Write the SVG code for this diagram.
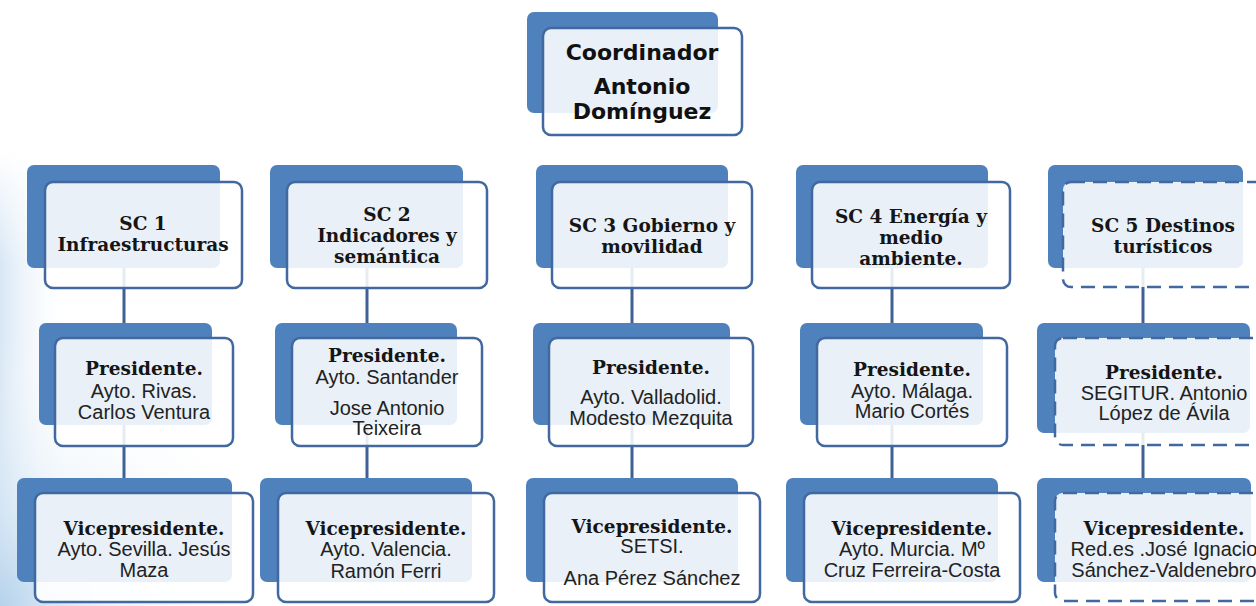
<svg xmlns="http://www.w3.org/2000/svg" width="1256" height="606" viewBox="0 0 1256 606">
<defs>
<style>
.back{fill:#4f81bd;}
.front{fill:#ffffff;fill-opacity:0.88;stroke:#41689f;stroke-width:2.5;}
.dash{stroke-dasharray:14 8;}
.conn{stroke:#3f6196;stroke-width:3;fill:none;}
.coord{font-family:"DejaVu Sans",Verdana,sans-serif;font-weight:bold;font-size:22px;fill:#111;text-anchor:middle;}
.title{font-family:"DejaVu Serif","Liberation Serif",serif;font-weight:bold;font-size:18.5px;fill:#151515;text-anchor:middle;}
.body{font-family:"Liberation Sans",Arial,sans-serif;font-size:20px;fill:#222;text-anchor:middle;}
</style>
<radialGradient id="bgl" cx="0" cy="1" r="1">
<stop offset="0" stop-color="#a9cbe8" stop-opacity="0.75"/>
<stop offset="0.35" stop-color="#cfe2f3" stop-opacity="0.45"/>
<stop offset="1" stop-color="#ffffff" stop-opacity="0"/>
</radialGradient>
<linearGradient id="bgs" x1="0" y1="0" x2="1" y2="0">
<stop offset="0" stop-color="#c6dcf0" stop-opacity="0.7"/>
<stop offset="1" stop-color="#ffffff" stop-opacity="0"/>
</linearGradient>
<linearGradient id="fadeV" x1="0" y1="0" x2="0" y2="1">
<stop offset="0" stop-color="#fff" stop-opacity="0"/>
<stop offset="0.25" stop-color="#fff" stop-opacity="1"/>
<stop offset="1" stop-color="#fff" stop-opacity="1"/>
</linearGradient>
<mask id="m1"><rect x="0" y="150" width="80" height="456" fill="url(#fadeV)"/></mask>
</defs>
<rect width="1256" height="606" fill="#ffffff"/>
<rect x="0" y="150" width="70" height="456" fill="url(#bgs)" mask="url(#m1)"/>
<rect x="0" y="330" width="300" height="276" fill="url(#bgl)"/>

<g id="connectors">
<line class="conn" x1="124" y1="268" x2="124" y2="323"/>
<line class="conn" x1="124" y1="425" x2="124" y2="478"/>
<line class="conn" x1="367" y1="268" x2="367" y2="323"/>
<line class="conn" x1="367" y1="425" x2="367" y2="478"/>
<line class="conn" x1="632" y1="268" x2="632" y2="323"/>
<line class="conn" x1="632" y1="425" x2="632" y2="478"/>
<line class="conn" x1="892" y1="268" x2="892" y2="323"/>
<line class="conn" x1="892" y1="425" x2="892" y2="478"/>
<line class="conn" x1="1143" y1="268" x2="1143" y2="323"/>
<line class="conn" x1="1143" y1="433" x2="1143" y2="478"/>
</g>

<g id="coordinador">
<rect class="back" x="527" y="12" width="191" height="101" rx="7"/>
<rect class="front" x="543" y="28" width="199" height="107" rx="8"/>
<text class="coord" x="642" y="60">Coordinador</text>
<text class="coord" x="642" y="94">Antonio</text>
<text class="coord" x="642" y="119">Domínguez</text>
</g>

<!-- Row 1 -->
<g id="sc1">
<rect class="back" x="27" y="165" width="193" height="103" rx="7"/>
<rect class="front" x="45" y="182" width="197" height="106" rx="8"/>
<text class="title" x="143" y="230">SC 1</text>
<text class="title" x="143" y="251">Infraestructuras</text>
</g>
<g id="sc2">
<rect class="back" x="270" y="165" width="193" height="103" rx="7"/>
<rect class="front" x="287" y="182" width="200" height="106" rx="8"/>
<text class="title" x="387" y="221">SC 2</text>
<text class="title" x="387" y="242">Indicadores y</text>
<text class="title" x="387" y="263">semántica</text>
</g>
<g id="sc3">
<rect class="back" x="536" y="165" width="192" height="103" rx="7"/>
<rect class="front" x="552" y="182" width="200" height="106" rx="8"/>
<text class="title" x="652" y="232">SC 3 Gobierno y</text>
<text class="title" x="652" y="253">movilidad</text>
</g>
<g id="sc4">
<rect class="back" x="796" y="165" width="192" height="103" rx="7"/>
<rect class="front" x="812" y="182" width="198" height="106" rx="8"/>
<text class="title" x="911" y="223">SC 4 Energía y</text>
<text class="title" x="911" y="244">medio</text>
<text class="title" x="911" y="265">ambiente.</text>
</g>
<g id="sc5">
<rect class="back" x="1048" y="165" width="195" height="103" rx="7"/>
<rect class="front dash" x="1063" y="182" width="202" height="105" rx="8"/>
<text class="title" x="1163" y="232">SC 5 Destinos</text>
<text class="title" x="1163" y="253">turísticos</text>
</g>

<!-- Row 2 -->
<g id="pres1">
<rect class="back" x="39" y="323" width="173" height="102" rx="7"/>
<rect class="front" x="55" y="338" width="178" height="108" rx="8"/>
<text class="title" x="144" y="375">Presidente.</text>
<text class="body" x="144" y="398">Ayto. Rivas.</text>
<text class="body" x="144" y="419">Carlos Ventura</text>
</g>
<g id="pres2">
<rect class="back" x="275" y="323" width="182" height="102" rx="7"/>
<rect class="front" x="292" y="338" width="190" height="108" rx="8"/>
<text class="title" x="387" y="362">Presidente.</text>
<text class="body" x="387" y="384">Ayto. Santander</text>
<text class="body" x="387" y="415">Jose Antonio</text>
<text class="body" x="387" y="435">Teixeira</text>
</g>
<g id="pres3">
<rect class="back" x="533" y="323" width="197" height="102" rx="7"/>
<rect class="front" x="549" y="338" width="204" height="108" rx="8"/>
<text class="title" x="651" y="374">Presidente.</text>
<text class="body" x="651" y="404">Ayto. Valladolid.</text>
<text class="body" x="651" y="425">Modesto Mezquita</text>
</g>
<g id="pres4">
<rect class="back" x="800" y="323" width="183" height="102" rx="7"/>
<rect class="front" x="817" y="338" width="190" height="108" rx="8"/>
<text class="title" x="912" y="376">Presidente.</text>
<text class="body" x="912" y="398">Ayto. Málaga.</text>
<text class="body" x="912" y="418">Mario Cortés</text>
</g>
<g id="pres5">
<rect class="back" x="1037" y="323" width="213" height="110" rx="7"/>
<rect class="front dash" x="1055" y="338" width="216" height="107" rx="8"/>
<text class="title" x="1164" y="379">Presidente.</text>
<text class="body" x="1164" y="400">SEGITUR. Antonio</text>
<text class="body" x="1164" y="420">López de Ávila</text>
</g>

<!-- Row 3 -->
<g id="vice1">
<rect class="back" x="17" y="478" width="215" height="104" rx="7"/>
<rect class="front" x="35" y="493" width="218" height="109" rx="8"/>
<text class="title" x="144" y="535">Vicepresidente.</text>
<text class="body" x="144" y="556">Ayto. Sevilla. Jesús</text>
<text class="body" x="144" y="577">Maza</text>
</g>
<g id="vice2">
<rect class="back" x="260" y="478" width="212" height="104" rx="7"/>
<rect class="front" x="278" y="493" width="216" height="109" rx="8"/>
<text class="title" x="386" y="535">Vicepresidente.</text>
<text class="body" x="386" y="556">Ayto. Valencia.</text>
<text class="body" x="386" y="578">Ramón Ferri</text>
</g>
<g id="vice3">
<rect class="back" x="526" y="478" width="212" height="104" rx="7"/>
<rect class="front" x="544" y="493" width="216" height="109" rx="8"/>
<text class="title" x="652" y="533">Vicepresidente.</text>
<text class="body" x="652" y="553">SETSI.</text>
<text class="body" x="652" y="585">Ana Pérez Sánchez</text>
</g>
<g id="vice4">
<rect class="back" x="786" y="478" width="212" height="104" rx="7"/>
<rect class="front" x="804" y="493" width="216" height="109" rx="8"/>
<text class="title" x="912" y="535">Vicepresidente.</text>
<text class="body" x="912" y="556">Ayto. Murcia. Mº</text>
<text class="body" x="912" y="577">Cruz Ferreira-Costa</text>
</g>
<g id="vice5">
<rect class="back" x="1037" y="478" width="214" height="104" rx="7"/>
<rect class="front dash" x="1055" y="493" width="218" height="108" rx="8"/>
<text class="title" x="1164" y="535">Vicepresidente.</text>
<text class="body" x="1164" y="556">Red.es .José Ignacio</text>
<text class="body" x="1164" y="577">Sánchez-Valdenebro</text>
</g>
</svg>
